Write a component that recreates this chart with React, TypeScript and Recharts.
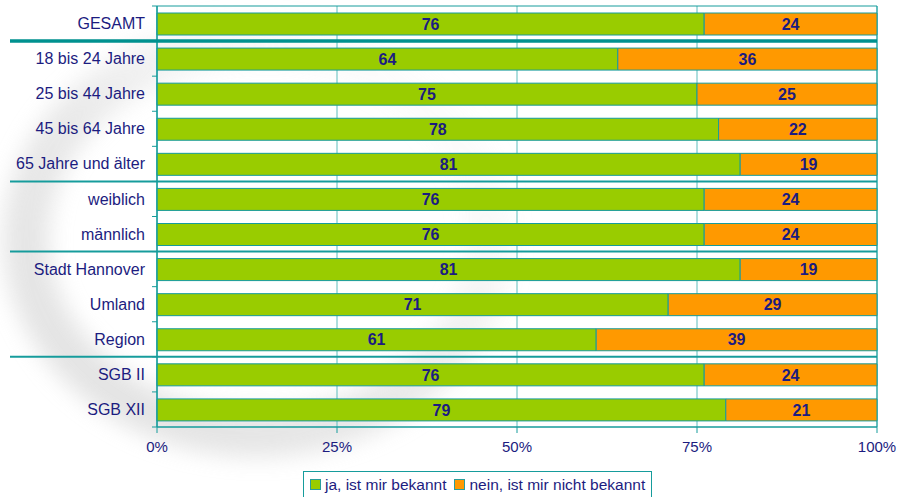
import React from "react";
import { Bar, BarChart, CartesianGrid, LabelList, ReferenceArea, XAxis, YAxis } from "recharts";

const categories = [
  "GESAMT",
  "18 bis 24 Jahre",
  "25 bis 44 Jahre",
  "45 bis 64 Jahre",
  "65 Jahre und älter",
  "weiblich",
  "männlich",
  "Stadt Hannover",
  "Umland",
  "Region",
  "SGB II",
  "SGB XII",
];
const jaValues = [76, 64, 75, 78, 81, 76, 76, 81, 71, 61, 76, 79];
const neinValues = [24, 36, 25, 22, 19, 24, 24, 19, 29, 39, 24, 21];
const xTicks = [0, 25, 50, 75, 100];
// index of the last row in each group -> separator line below it
const groupEnds = [0, 4, 6, 9];
const seriesNames = ["ja, ist mir bekannt", "nein, ist mir nicht bekannt"];

const W = 899;
const H = 497;
const MARGIN = { top: 6, right: 22, left: 0, bottom: 40 };
const Y_AXIS_W = 157;
const X_AXIS_H = 30;
const PLOT_LEFT = MARGIN.left + Y_AXIS_W;
const PLOT_RIGHT = W - MARGIN.right;
const PLOT_TOP = MARGIN.top;
const PLOT_BOTTOM = H - MARGIN.bottom - X_AXIS_H;
const BAND = (PLOT_BOTTOM - PLOT_TOP) / categories.length;

const GREEN = "#99cc00";
const ORANGE = "#ff9900";
const TEAL = "#169c9c";
const GRID = "#5dbdbd";
const NAVY = "#1c1c80";
const FONT = "'Liberation Sans', Arial, sans-serif";

const rows = categories.map((name, i) => ({ name, ja: jaValues[i], nein: neinValues[i] }));

function CategoryTick(props: any) {
  const { x, y, payload, index } = props;
  const half = payload && payload.offset ? payload.offset : BAND / 2;
  const lower = y + half;
  const isSep = groupEnds.includes(index);
  return (
    <g>
      {index === 0 && (
        <line x1={PLOT_LEFT - 5} x2={PLOT_LEFT} y1={y - half} y2={y - half} stroke={TEAL} strokeWidth={1} />
      )}
      <line x1={PLOT_LEFT - 5} x2={PLOT_LEFT} y1={lower} y2={lower} stroke={TEAL} strokeWidth={1} />
      {isSep && (
        <line
          x1={10}
          x2={PLOT_RIGHT}
          y1={lower}
          y2={lower}
          stroke={index === 0 ? "#00918f" : TEAL}
          strokeWidth={index === 0 ? 3.5 : 2}
        />
      )}
      <text x={x} y={y} dy="0.35em" textAnchor="end" fill={NAVY} fontSize={16} fontFamily={FONT}>
        {payload.value}
      </text>
    </g>
  );
}

function Swoosh() {
  return (
    <svg width={W} height={H} style={{ position: "absolute", left: 0, top: 0 }}>
      <defs>
        <filter id="soft" x="-30%" y="-30%" width="160%" height="160%">
          <feGaussianBlur stdDeviation="11" />
        </filter>
        <linearGradient id="fade" x1="0" y1="1" x2="1" y2="0">
          <stop offset="0%" stopColor="#d6d6d6" stopOpacity={1} />
          <stop offset="45%" stopColor="#dcdcdc" stopOpacity={0.9} />
          <stop offset="80%" stopColor="#e6e6e6" stopOpacity={0.25} />
          <stop offset="100%" stopColor="#eeeeee" stopOpacity={0} />
        </linearGradient>
      </defs>
      <ellipse
        cx={258}
        cy={238}
        rx={232}
        ry={196}
        fill="none"
        stroke="url(#fade)"
        strokeWidth={46}
        opacity={0.7}
        filter="url(#soft)"
      />
    </svg>
  );
}

export default function App() {
  const colors = [GREEN, ORANGE];
  return (
    <div style={{ position: "absolute", left: 0, top: 0, width: W, height: H, background: "#fff", fontFamily: FONT }}>
      <Swoosh />
      <div style={{ position: "absolute", left: 0, top: 0 }}>
        <BarChart width={W} height={H} data={rows} layout="vertical" margin={MARGIN} barSize={22}>
          <CartesianGrid horizontal={false} stroke={GRID} strokeWidth={1} />
          <XAxis
            type="number"
            domain={[0, 100]}
            ticks={xTicks}
            tickFormatter={(v: number) => `${v}%`}
            height={X_AXIS_H}
            tickSize={6}
            tickMargin={8}
            stroke={TEAL}
            tick={{ fill: NAVY, fontSize: 15, fontFamily: FONT }}
          />
          <YAxis
            type="category"
            dataKey="name"
            width={Y_AXIS_W}
            tickSize={5}
            tickMargin={7}
            tickLine={false}
            stroke={TEAL}
            interval={0}
            tick={<CategoryTick />}
          />
          <ReferenceArea x1={0} x2={100} fill="none" stroke={TEAL} strokeWidth={1} ifOverflow="visible" />
          <Bar dataKey="ja" stackId="s" fill={GREEN} stroke={TEAL} strokeWidth={1} isAnimationActive={false}>
            <LabelList dataKey="ja" position="center" fill={NAVY} fontSize={16} fontWeight="bold" fontFamily={FONT} />
          </Bar>
          <Bar dataKey="nein" stackId="s" fill={ORANGE} stroke={TEAL} strokeWidth={1} isAnimationActive={false}>
            <LabelList dataKey="nein" position="center" fill={NAVY} fontSize={16} fontWeight="bold" fontFamily={FONT} />
          </Bar>
        </BarChart>
      </div>
      <div
        style={{
          position: "absolute",
          left: 303,
          top: 471,
          width: 349,
          height: 30,
          border: `1px solid ${TEAL}`,
          boxSizing: "border-box",
          display: "flex",
          alignItems: "center",
          paddingLeft: 6,
          paddingBottom: 3,
          gap: 8,
          color: NAVY,
          fontSize: 15.5,
          whiteSpace: "nowrap",
          background: "#fff",
        }}
      >
        {seriesNames.map((n, i) => (
          <span key={n} style={{ display: "inline-flex", alignItems: "center", gap: 4 }}>
            <span
              style={{
                display: "inline-block",
                width: 9,
                height: 9,
                background: colors[i],
                border: "1px solid #2a9d9d",
              }}
            />
            {n}
          </span>
        ))}
      </div>
    </div>
  );
}
